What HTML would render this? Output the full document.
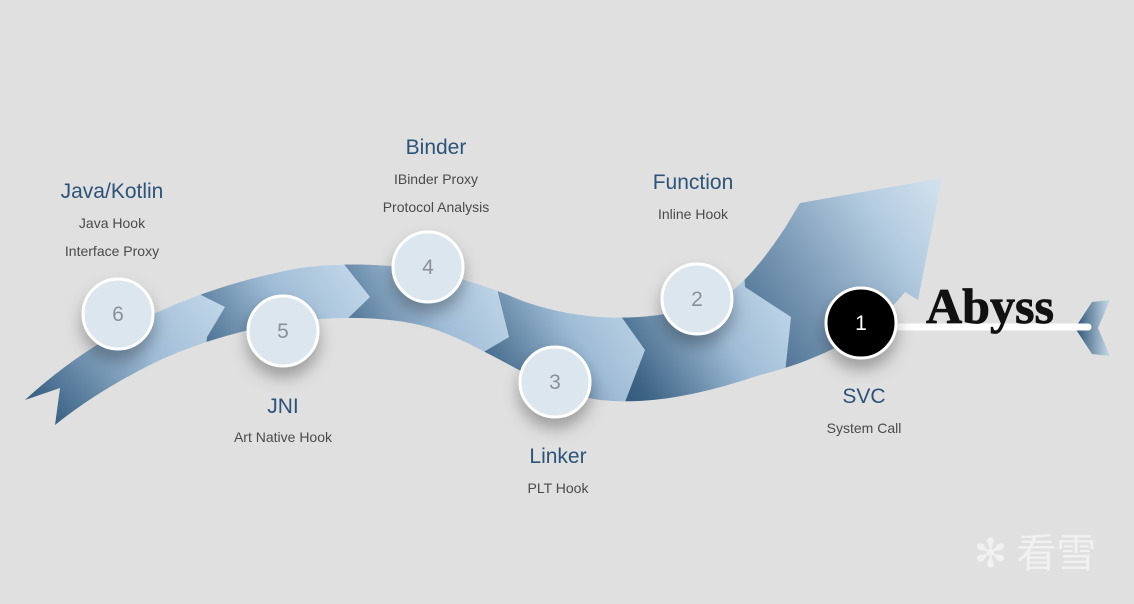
<!DOCTYPE html>
<html><head><meta charset="utf-8"><style>
html,body{margin:0;padding:0;background:#e0e0e0;}
.w{position:relative;width:1134px;height:604px;overflow:hidden;background:#e0e0e0;font-family:"Liberation Sans",sans-serif;}
.t{position:absolute;text-align:center;width:240px;color:#2d5378;font-size:21px;}
.s{position:absolute;text-align:center;width:240px;color:#4a4a4a;font-size:14px;}
</style></head><body><div class="w">
<svg width="1134" height="604" style="position:absolute;left:0;top:0">
<defs>
<linearGradient id="g" x1="0" y1="1" x2="1" y2="0.2">
<stop offset="0" stop-color="#21476a"/><stop offset="0.25" stop-color="#3e6486"/><stop offset="0.65" stop-color="#9fbcd6"/><stop offset="1" stop-color="#c4d8ea"/>
</linearGradient>
<linearGradient id="gh" x1="0" y1="1" x2="1" y2="0">
<stop offset="0" stop-color="#21476a"/><stop offset="0.3" stop-color="#5e80a0"/><stop offset="0.7" stop-color="#b3cbe0"/><stop offset="1" stop-color="#e0ebf4"/>
</linearGradient>
<linearGradient id="f" x1="1075" y1="0" x2="1110" y2="0" gradientUnits="userSpaceOnUse">
<stop offset="0" stop-color="#2a5072"/><stop offset="1" stop-color="#c8dcec"/></linearGradient>
<filter id="sh" x="-50%" y="-50%" width="200%" height="200%"><feDropShadow dx="0" dy="10" stdDeviation="8" flood-color="#000" flood-opacity="0.3"/></filter>
<clipPath id="band"><path d="M25,400 C90,340 180,290 300,268 C380,258 450,270 520,300 C580,322 650,325 720,300 C750,280 770,250 785,228 L800,203 L942,178 L918,300 L905,292 C870,335 820,360 760,375 C700,395 650,405 600,400 C540,392 480,340 420,325 C330,305 220,330 150,365 C110,385 80,405 55,425 L60,388 Z"/></clipPath>
</defs>
<g clip-path="url(#band)">
<polygon points="0,250 185,250 191,290 225,307 207,337 195,460 0,460" fill="url(#g)"/>
<polygon points="191,290 185,250 340,230 343,263 370,297 341,325 350,460 195,460 207,337 225,307" fill="url(#g)"/>
<polygon points="343,263 340,230 495,240 498,293 509,337 470,360 470,460 350,460 341,325 370,297" fill="url(#g)"/>
<polygon points="498,293 495,240 618,260 620,315 645,350 625,402 625,460 470,460 470,360 509,337" fill="url(#g)"/>
<polygon points="620,315 618,260 742,240 745,287 791,317 785,373 790,460 625,460 625,402 645,350" fill="url(#g)"/>
<polygon points="745,287 742,240 760,150 960,150 960,460 790,460 785,373 791,317" fill="url(#gh)"/>
</g>
<path d="M1075,328 L1092,302 L1110,300 L1098,328 L1110,356 L1092,354 Z" fill="url(#f)"/>
<line x1="895" y1="327" x2="1088" y2="327" stroke="#fff" stroke-width="7" stroke-linecap="round"/>
<g filter="url(#sh)">
<circle cx="118" cy="314" r="35" fill="#dce6ef" stroke="#fff" stroke-width="3"/>
<circle cx="283" cy="331" r="35" fill="#dce6ef" stroke="#fff" stroke-width="3"/>
<circle cx="428" cy="267" r="35" fill="#dce6ef" stroke="#fff" stroke-width="3"/>
<circle cx="555" cy="382" r="35" fill="#dce6ef" stroke="#fff" stroke-width="3"/>
<circle cx="697" cy="299" r="35" fill="#dce6ef" stroke="#fff" stroke-width="3"/>
<circle cx="861" cy="323" r="35" fill="#000" stroke="#fff" stroke-width="3"/>
</g>
<g font-family="Liberation Sans" font-size="21" text-anchor="middle" fill="#8a9099">
<text x="118" y="321">6</text><text x="283" y="338">5</text><text x="428" y="274">4</text>
<text x="555" y="389">3</text><text x="697" y="306">2</text><text x="861" y="330" fill="#fff">1</text>
</g>
<text x="990" y="323" text-anchor="middle" font-family="Liberation Serif" font-weight="bold" font-size="50" fill="#111" stroke="#111" stroke-width="0.8" textLength="128" lengthAdjust="spacingAndGlyphs">Abyss</text>
<text x="1035" y="567" text-anchor="middle" font-family="Noto Sans CJK SC,sans-serif" font-size="40" fill="#fff" opacity="0.55">✻ 看雪</text>
</svg>
<div class="t" style="left:-8px;top:180px">Java/Kotlin</div>
<div class="s" style="left:-8px;top:215px">Java Hook</div>
<div class="s" style="left:-8px;top:243px">Interface Proxy</div>
<div class="t" style="left:316px;top:136px">Binder</div>
<div class="s" style="left:316px;top:171px">IBinder Proxy</div>
<div class="s" style="left:316px;top:199px">Protocol Analysis</div>
<div class="t" style="left:573px;top:171px">Function</div>
<div class="s" style="left:573px;top:206px">Inline Hook</div>
<div class="t" style="left:163px;top:395px">JNI</div>
<div class="s" style="left:163px;top:429px">Art Native Hook</div>
<div class="t" style="left:438px;top:445px">Linker</div>
<div class="s" style="left:438px;top:480px">PLT Hook</div>
<div class="t" style="left:744px;top:385px">SVC</div>
<div class="s" style="left:744px;top:420px">System Call</div>
</div></body></html>
